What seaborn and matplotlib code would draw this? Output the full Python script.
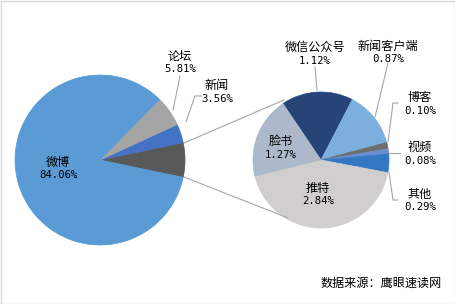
import matplotlib
matplotlib.use("Agg")
import matplotlib.pyplot as plt
import seaborn as sns
from matplotlib.patches import Rectangle

sns.set_theme(style="white")
plt.rcParams['font.family'] = ['Noto Sans CJK SC', 'DejaVu Sans']

# ---- data ----
main_labels = ["其他合计", "新闻", "论坛", "微博"]
main_values = [6.57, 3.56, 5.81, 84.06]
main_colors = ["#595959", "#4472C4", "#A5A5A5", "#5B9BD5"]

sub_labels = ["微信公众号", "新闻客户端", "博客", "视频", "其他", "推特", "脸书"]
sub_values = [1.12, 0.87, 0.10, 0.08, 0.29, 2.84, 1.27]
sub_colors = ["#264478", "#7CAFDD", "#6E6E6E", "#698ED0", "#3478C4", "#D0CECE", "#ADB9CA"]

source_text = "数据来源：鹰眼速读网"

W, H = 455, 304
fig = plt.figure(figsize=(W / 100, H / 100), dpi=100)
ax = fig.add_axes([0, 0, 1, 1])

def Y(py):
    return H - py

# main pie
c1 = (100, Y(160)); r1 = 85
other_deg = main_values[0] / sum(main_values) * 360
w1, _ = ax.pie(main_values, colors=main_colors, center=c1, radius=r1,
               startangle=-other_deg / 2, counterclock=True, frame=True)

# sub pie
c2 = (321, Y(160)); r2 = 68
w2, _ = ax.pie(sub_values, colors=sub_colors, center=c2, radius=r2,
               startangle=124, counterclock=False, frame=True)
for w in list(w1) + list(w2):
    w.set_edgecolor(w.get_facecolor())
    w.set_linewidth(0.5)

ax.set_xlim(0, W)
ax.set_ylim(0, H)
ax.set_aspect("equal")
ax.axis("off")

lc = "#A6A6A6"
# connector lines
ax.plot([184, 284], [Y(143), Y(100)], color=lc, lw=0.8)
ax.plot([184, 288], [Y(177), Y(218)], color=lc, lw=0.8)

# leader lines
ax.plot([173, 180], [Y(110), Y(76)], color=lc, lw=0.8)
ax.plot([186, 195, 202], [Y(122), Y(96), Y(96)], color=lc, lw=0.8)
ax.plot([317, 315], [Y(90), Y(67)], color=lc, lw=0.8)
ax.plot([375, 388], [Y(117), Y(63)], color=lc, lw=0.8)
ax.plot([388, 393, 398], [Y(142), Y(103), Y(103)], color=lc, lw=0.8)
ax.plot([389, 400], [Y(153), Y(153)], color=lc, lw=0.8)
ax.plot([389, 393, 398], [Y(172), Y(200), Y(200)], color=lc, lw=0.8)

lab_fs = 8.7
num_fs = 7.7
mono = ['DejaVu Sans Mono']

def label(x, y, name, pct):
    ax.text(x, Y(y), name, ha="center", va="center", fontsize=lab_fs, color="#000000")
    ax.text(x, Y(y + 13.5), f"{pct:.2f}%", ha="center", va="center",
            fontsize=num_fs, family=mono, color="#000000")

label(58, 162, "微博", main_values[3])
label(180, 56, "论坛", main_values[2])
label(217, 86, "新闻", main_values[1])

sub_pos = [(315, 47), (388, 46), (420, 98), (420, 147), (420, 194), (318, 188), (281, 141)]
for (x, y), n, v in zip(sub_pos, sub_labels, sub_values):
    label(x, y, n, v)

ax.text(381, Y(283), source_text, ha="center", va="center", fontsize=lab_fs, color="#000000")

# outer frame
ax.add_patch(Rectangle((0.5, 0.5), W - 1, H - 1, fill=False, edgecolor="#D9D9D9", lw=1))

fig.savefig("out.png", dpi=100)
